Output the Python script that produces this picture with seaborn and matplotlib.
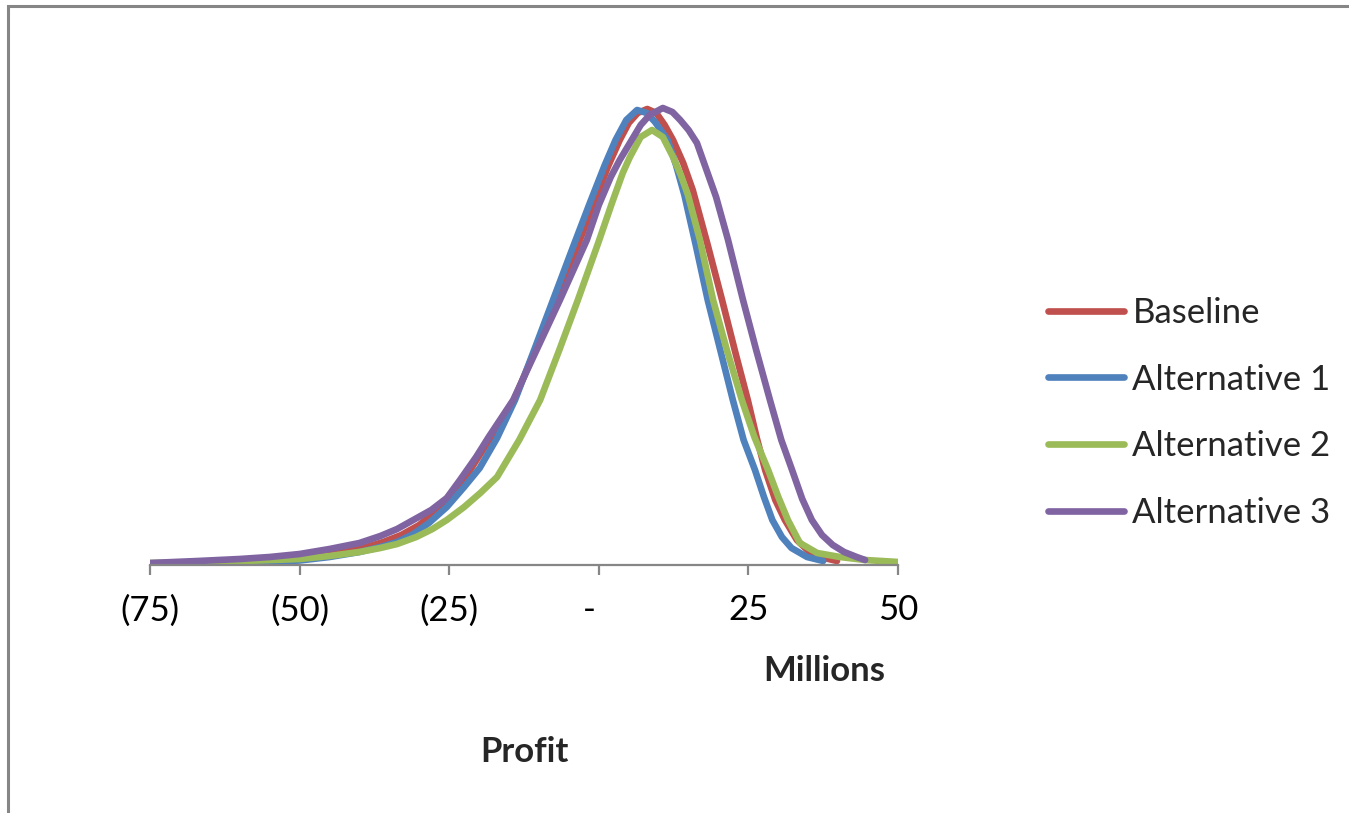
import matplotlib
matplotlib.use("Agg")
import matplotlib.pyplot as plt
import seaborn as sns
from matplotlib.patches import Rectangle

# --- Data (profit in millions, relative frequency) ---
baseline_x = [-67.5, -60.0, -55.0, -50.0, -45.0, -40.0, -36.0, -33.0, -30.0, -27.0, -24.0,
              -21.5, -18.0, -14.2, -10.6, -7.15, -3.8, -0.6, 1.5, 3.5, 5.0, 6.5, 8.1, 9.6,
              11.0, 12.4, 14.1, 15.7, 18.2, 20.6, 22.8, 24.9, 26.4, 27.8, 29.5, 31.1, 33.1,
              35.2, 37.0, 39.8]
baseline_y = [0.01, 0.03, 0.045, 0.06, 0.10, 0.16, 0.23, 0.30, 0.40, 0.55, 0.75,
              0.95, 1.28, 1.65, 2.15, 2.65, 3.15, 3.65, 3.98, 4.25, 4.42, 4.52, 4.56, 4.52,
              4.40, 4.25, 4.02, 3.75, 3.20, 2.65, 2.13, 1.65, 1.27, 0.95, 0.65, 0.45, 0.25,
              0.13, 0.08, 0.04]

alt1_x = [-63.8, -57.0, -50.0, -45.0, -40.0, -36.5, -33.7, -31.0, -28.4, -25.4, -22.5,
          -19.9, -17.0, -14.0, -10.8, -7.65, -4.5, -1.5, 1.0, 2.8, 4.6, 6.4, 8.0, 9.4,
          11.5, 12.9, 14.3, 16.2, 18.2, 20.3, 22.4, 24.2, 26.1, 27.6, 29.0, 30.6, 32.2,
          34.8, 37.5]
alt1_y = [0.01, 0.025, 0.045, 0.08, 0.13, 0.18, 0.23, 0.31, 0.42, 0.58, 0.78,
          0.97, 1.27, 1.65, 2.15, 2.65, 3.15, 3.62, 4.00, 4.25, 4.45, 4.55, 4.52, 4.43,
          4.25, 4.00, 3.70, 3.20, 2.65, 2.15, 1.65, 1.25, 0.95, 0.68, 0.45, 0.28, 0.17,
          0.08, 0.04]

alt2_x = [-75.0, -65.0, -57.0, -50.0, -45.0, -40.0, -36.5, -33.7, -30.5, -27.8, -25.4,
          -22.5, -19.8, -17.0, -13.3, -9.8, -6.6, -3.5, -0.1, 2.2, 4.0, 5.2, 7.0, 8.9,
          10.7, 12.4, 13.7, 14.9, 16.9, 19.1, 21.4, 23.9, 26.0, 28.3, 30.0, 31.6, 33.6,
          36.5, 40.3, 44.5, 50.0]
alt2_y = [0.02, 0.03, 0.045, 0.06, 0.09, 0.13, 0.17, 0.21, 0.28, 0.36, 0.45,
          0.58, 0.72, 0.88, 1.25, 1.65, 2.15, 2.65, 3.22, 3.62, 3.92, 4.08, 4.28, 4.35,
          4.28, 4.08, 3.90, 3.70, 3.25, 2.65, 2.15, 1.65, 1.28, 0.95, 0.68, 0.45, 0.22,
          0.12, 0.08, 0.05, 0.03]

alt3_x = [-75.0, -67.0, -60.0, -55.0, -50.0, -45.0, -40.0, -36.5, -33.7, -31.0, -28.0,
          -25.4, -23.2, -20.5, -18.4, -14.3, -10.4, -6.5, -2.0, 0.0, 2.0, 3.5, 5.5, 7.0,
          8.5, 10.7, 12.3, 13.6, 15.0, 16.4, 18.0, 19.6, 21.6, 24.1, 26.3, 28.6, 30.5,
          32.3, 34.0, 35.6, 37.3, 39.1, 41.0, 43.1, 44.5]
alt3_y = [0.02, 0.04, 0.06, 0.08, 0.11, 0.16, 0.22, 0.29, 0.36, 0.45, 0.55,
          0.67, 0.85, 1.08, 1.28, 1.65, 2.15, 2.65, 3.25, 3.60, 3.88, 4.05, 4.25, 4.40,
          4.50, 4.57, 4.53, 4.45, 4.35, 4.22, 3.95, 3.68, 3.25, 2.65, 2.15, 1.65, 1.25,
          0.95, 0.66, 0.45, 0.30, 0.20, 0.13, 0.08, 0.05]

series_names = ["Baseline", "Alternative 1", "Alternative 2", "Alternative 3"]
series_x = [baseline_x, alt1_x, alt2_x, alt3_x]
series_y = [baseline_y, alt1_y, alt2_y, alt3_y]
series_colors = ["#C0504D", "#4F81BD", "#9BBB59", "#8064A2"]

tick_values = [-75, -50, -25, 0, 25, 50]
tick_labels = ["(75)", "(50)", "(25)", "-  ", "25", "50"]

# --- Figure ---
sns.set_style("white")
plt.rcParams["font.family"] = ["Lato", "DejaVu Sans"]

W, H = 1349, 813
fig = plt.figure(figsize=(W / 100, H / 100), dpi=100)
ax = fig.add_axes([150 / W, 1 - 565 / H, (898 - 150) / W, (565 - 60) / H])

for name, xs, ys, col in zip(series_names, series_x, series_y, series_colors):
    sns.lineplot(x=xs, y=ys, ax=ax, color=col, linewidth=4.8, label=name,
                 sort=False, estimator=None, solid_capstyle="round",
                 solid_joinstyle="round")

ax.set_xlim(-75, 50)
ax.set_ylim(0, 5.05)
ax.set_xticks(tick_values)
ax.set_xticklabels(tick_labels)
ax.set_yticks([])
ax.set_xlabel("")
ax.set_ylabel("")

for side in ["left", "top", "right"]:
    ax.spines[side].set_visible(False)
ax.spines["bottom"].set_color("#868686")
ax.spines["bottom"].set_linewidth(1.6)
ax.tick_params(axis="x", direction="out", length=7, width=1.6, color="#868686",
               pad=14, labelsize=25, labelcolor="black", bottom=True)

# display unit label and axis title
fig.text(885 / W, 1 - 671 / H, "Millions", ha="right", va="center",
         fontsize=25, fontweight="bold")
fig.text(524 / W, 1 - 752 / H, "Profit", ha="center", va="center",
         fontsize=25, fontweight="bold")

leg = ax.legend(loc="center left", bbox_to_anchor=(1048 / W, 1 - 413 / H),
                bbox_transform=fig.transFigure, frameon=False, fontsize=25,
                handlelength=2.2, handletextpad=0.23, labelspacing=1.0,
                borderpad=0, borderaxespad=0)
for line in leg.get_lines():
    line.set_linewidth(4.8)
    line.set_solid_capstyle("round")

# chart area border (only left and top edges fall inside the image)
fig.patches.append(Rectangle((8 / W, -0.1), 1.2, 1.1 - 6 / H, transform=fig.transFigure,
                             fill=False, edgecolor="#868686", linewidth=2.2))

fig.savefig("out.png", dpi=100)
plt.close(fig)
